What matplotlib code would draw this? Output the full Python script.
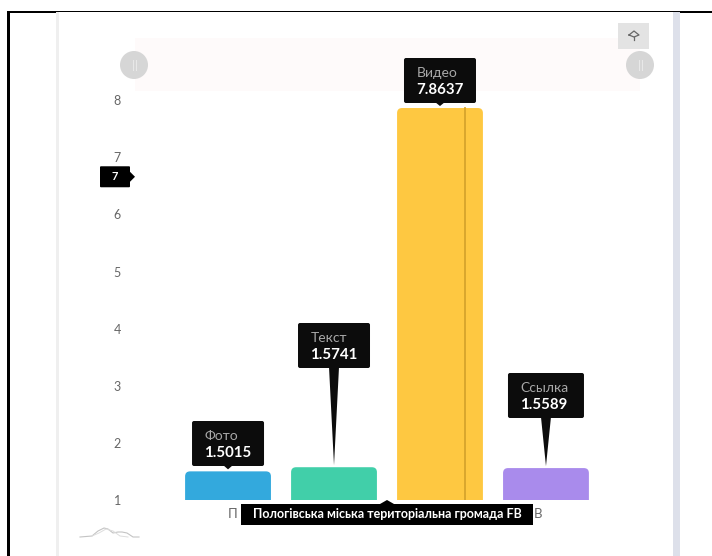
import matplotlib
matplotlib.use("Agg")
import matplotlib.pyplot as plt
from matplotlib.patches import Rectangle, FancyBboxPatch, Polygon, Circle
from matplotlib.transforms import IdentityTransform

plt.rcParams['font.family'] = ['Lato', 'DejaVu Sans']

# === Data ===
categories = ["Фото", "Текст", "Видео", "Ссылка"]
values = [1.5015, 1.5741, 7.8637, 1.5589]
value_labels = ["1.5015", "1.5741", "7.8637", "1.5589"]
colors = ["#33a9dd", "#41cfa9", "#fec841", "#a98bec"]
y_ticks = [1, 2, 3, 4, 5, 6, 7, 8]
hover_x = 2.236
hover_y = 6.66
hover_label = "7"
series_name = "Пологівська міська територіальна громада FB"

W, H = 712, 556
fig = plt.figure(figsize=(W / 100, H / 100), dpi=100, facecolor="white")

# background layer, pixel coordinates
bg = fig.add_axes([0, 0, 1, 1], zorder=0)
bg.set_xlim(0, W)
bg.set_ylim(H, 0)
bg.axis("off")
bg.add_patch(Rectangle((135, 38), 505, 53, color="#fefafa", lw=0))
bg.add_patch(Rectangle((56, 12), 2.5, H, color="#efefef", lw=0))
bg.add_patch(Rectangle((673, 12), 7, H, color="#dde0ea", lw=0))
bg.add_patch(Rectangle((7, 11), 2.5, H, color="black", lw=0))
bg.add_patch(Rectangle((7, 11), 49, 2, color="black", lw=0))
bg.add_patch(Rectangle((56, 11), 624, 1, color="black", lw=0))
bg.add_patch(Rectangle((680, 11), W - 680, 2, color="black", lw=0))

# main chart
ax = fig.add_axes([132 / W, (H - 500) / H, 510 / W, 414.6 / H], zorder=1)
ax.patch.set_alpha(0)
bars = ax.bar(range(len(values)), values, width=0.81, color=colors, linewidth=0)
ax.axvline(hover_x, ymax=(values[2] - 1) / 7.26, color="#d6a42c", lw=1.3)
ax.set_xlim(-0.906, 3.906)
ax.set_ylim(1, 8.26)
ax.set_yticks(y_ticks)
ax.set_xticks([])
ax.tick_params(axis="y", length=0, pad=8, labelsize=9, labelcolor="#666666")
for s in ax.spines.values():
    s.set_visible(False)

# rounded top corners on the bars
for b in bars:
    (x0, y0), (x1, y1) = ax.transData.transform([(b.get_x(), 1), (b.get_x() + b.get_width(), b.get_height())])
    clip = FancyBboxPatch((x0 + 5, y0 - 20), x1 - x0 - 10, y1 - y0 + 15,
                          boxstyle="round,pad=5,rounding_size=5", transform=IdentityTransform())
    b.set_clip_path(clip)

# overlay, pixel coordinates
top = fig.add_axes([0, 0, 1, 1], zorder=2)
top.set_xlim(0, W)
top.set_ylim(H, 0)
top.axis("off")
top.patch.set_alpha(0)


def to_px(x, y):
    px, py = ax.transData.transform((x, y))
    return px, H - py


def tooltip(name, text, cx, tip_y, box_top, half):
    box_bottom = box_top + 45
    top.add_patch(Polygon([(cx - 5, box_bottom - 1), (cx + 5, box_bottom - 1), (cx, tip_y)], color="#0c0c0c", lw=0))
    top.add_patch(FancyBboxPatch((cx - half + 2, box_top + 2), 2 * half - 4, 41,
                                 boxstyle="round,pad=2,rounding_size=2", color="#0c0c0c", lw=0))
    top.text(cx - half + 12.5, box_top + 15, name, color="#a8a8a8", fontsize=10, va="center", ha="left")
    top.text(cx - half + 12.5, box_top + 32, text, color="white", fontsize=10.8, fontweight="bold", va="center", ha="left")


box_tops = [421, 323, 58, 373]
half_widths = [36, 36, 36, 38]
for i in range(len(values)):
    cx, by = to_px(i, values[i])
    tooltip(categories[i], value_labels[i], cx, by - 2, box_tops[i], half_widths[i])

# slider handles and download button
for hx in (134, 640):
    top.add_patch(Circle((hx, 65), 14, color="#d6d6d6", lw=0))
    top.plot([hx - 1.5, hx - 1.5], [60, 70], color="#e8e8e8", lw=0.8)
    top.plot([hx + 1.5, hx + 1.5], [60, 70], color="#e8e8e8", lw=0.8)
top.add_patch(Rectangle((618, 23), 31, 26, color="#e3e3e3", lw=0))
top.plot([629, 634, 639, 634, 629], [35, 31, 35, 37, 35], color="#666666", lw=0.9)
top.plot([634, 634], [37, 40], color="#666666", lw=0.9)

# hover marker on the y axis
hy = to_px(0, hover_y)[1]
top.add_patch(FancyBboxPatch((101, hy - 9.5), 28, 19, boxstyle="round,pad=1,rounding_size=1", color="black", lw=0))
top.add_patch(Polygon([(130, hy - 5), (135, hy), (130, hy + 5)], color="black", lw=0))
top.text(115, hy, hover_label, color="white", fontsize=8, fontweight="bold", ha="center", va="center")

# series tooltip covering the axis label
top.text(233, 514, series_name[0], color="#666666", fontsize=9.5, ha="center", va="center")
top.text(538, 514, series_name[-1], color="#666666", fontsize=9.5, ha="center", va="center")
top.add_patch(Rectangle((241, 504), 292, 21, color="black", lw=0))
top.add_patch(Polygon([(380, 504), (394, 504), (387, 500)], color="black", lw=0))
top.text(387, 514, series_name, color="white", fontsize=9, fontweight="bold", ha="center", va="center")

# range selector sparkline
top.plot([80, 92, 98, 104, 108, 113, 118, 122, 127, 133, 139],
         [537, 536, 531, 528, 529, 533, 532, 532, 533, 537, 537], color="#c4c4c4", lw=0.8)
top.plot([92, 99, 106, 113, 120, 128], [536, 533, 529, 531, 536, 537], color="#dddddd", lw=0.7)

fig.savefig("out.png", dpi=100)
